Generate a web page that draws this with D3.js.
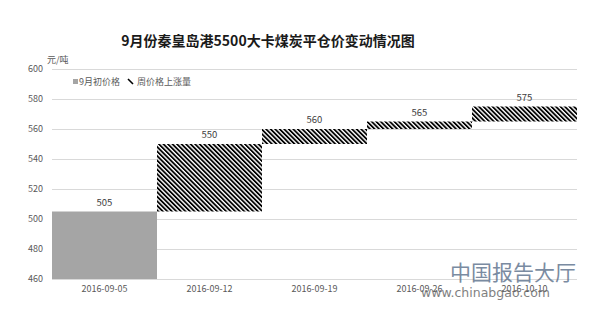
<!DOCTYPE html>
<html><head><meta charset="utf-8">
<script src="https://cdn.jsdelivr.net/npm/d3@7"></script>
<style>body{margin:0;background:#fff}svg{display:block}</style>
</head><body><svg id="c" width="596" height="311"></svg>
<script>
const categories = ["2016-09-05","2016-09-12","2016-09-19","2016-09-26","2016-10-10"];
const prices = [505, 550, 560, 565, 575];
const yTicks = [460,480,500,520,540,560,580,600];
const titleText = "9月份秦皇岛港5500大卡煤炭平仓价变动情况图";
const unitText = "元/吨";
const legendLabels = ["9月初价格","周价格上涨量"];

const svg = d3.select("#c");
const font = "'Noto Sans CJK SC', 'Noto Sans', sans-serif";
const m = {l:52, r:577, t:69, b:279};
const x = d3.scaleBand().domain(categories).range([m.l, m.r]).padding(0);
const y = d3.scaleLinear().domain([460,600]).range([m.b, m.t]);

const defs = svg.append("defs");
const pat = defs.append("pattern").attr("id","hatch").attr("patternUnits","userSpaceOnUse")
  .attr("width",3.2).attr("height",3.2).attr("patternTransform","rotate(-45)");
pat.append("rect").attr("width",3.2).attr("height",3.2).attr("fill","#fff");
pat.append("rect").attr("width",1.8).attr("height",3.2).attr("fill","#000");

// gridlines
svg.append("g").selectAll("line").data(yTicks).join("line")
  .attr("x1",m.l).attr("x2",m.r).attr("y1",d=>y(d)+0.5).attr("y2",d=>y(d)+0.5)
  .attr("stroke","#d9d9d9").attr("stroke-width",1);

// y axis labels
const yAxis = d3.axisLeft(y).tickValues(yTicks).tickSize(0).tickPadding(0);
const ya = svg.append("g").attr("transform",`translate(${m.l-9},0)`).call(yAxis);
ya.select(".domain").remove();
ya.selectAll("text").attr("font-family",font).attr("font-size",9).attr("fill","#595959");

// x axis labels
const xAxis = d3.axisBottom(x).tickSize(0).tickPadding(0);
const xa = svg.append("g").attr("transform",`translate(0,${m.b+7})`).call(xAxis);
xa.select(".domain").remove();
xa.selectAll("text").attr("font-family",font).attr("font-size",9).attr("fill","#595959");

// bars
const bars = prices.map((v,i)=>({cat:categories[i], lo: i===0 ? 460 : prices[i-1], hi: v, base: i===0}));
svg.append("g").selectAll("rect").data(bars).join("rect")
  .attr("x",d=>x(d.cat)).attr("width",x.bandwidth())
  .attr("y",d=>y(d.hi)).attr("height",d=>y(d.lo)-y(d.hi))
  .attr("fill",d=>d.base ? "#a5a5a5" : "url(#hatch)");

// value labels
svg.append("g").selectAll("text").data(bars).join("text")
  .attr("x",d=>x(d.cat)+x.bandwidth()/2).attr("y",d=>y(d.hi)-6)
  .attr("text-anchor","middle").attr("font-family",font).attr("font-size",9.5).attr("fill","#404040")
  .text(d=>d.hi);

// title
svg.append("text").attr("x",268).attr("y",46).attr("text-anchor","middle")
  .attr("font-family","'Noto Sans CJK SC', sans-serif").attr("font-weight","bold").attr("font-size",14)
  .attr("fill","#1a1a1a").text(titleText);

// unit
svg.append("text").attr("x",47).attr("y",63).attr("font-family",font).attr("font-size",9).attr("fill","#595959").text(unitText);

// legend
const lg = svg.append("g");
lg.append("rect").attr("x",73).attr("y",79).attr("width",5).attr("height",5).attr("fill","#a5a5a5");
lg.append("text").attr("x",79).attr("y",85).attr("font-family",font).attr("font-size",9).attr("fill","#595959").text(legendLabels[0]);
lg.append("line").attr("x1",128).attr("y1",79).attr("x2",133).attr("y2",84).attr("stroke","#000").attr("stroke-width",1.6);
lg.append("text").attr("x",137).attr("y",85).attr("font-family",font).attr("font-size",9).attr("fill","#595959").text(legendLabels[1]);

// watermark
svg.append("text").attr("x",450).attr("y",280).attr("font-family",font).attr("font-size",21)
  .attr("fill","#5a6f8a").attr("opacity",0.8).text("中国报告大厅");
svg.append("text").attr("x",421).attr("y",297).attr("font-family","'DejaVu Sans', sans-serif").attr("font-size",12.5)
  .attr("fill","#6b6b6b").attr("opacity",0.85).text("www.chinabgao.com");
</script></body></html>
